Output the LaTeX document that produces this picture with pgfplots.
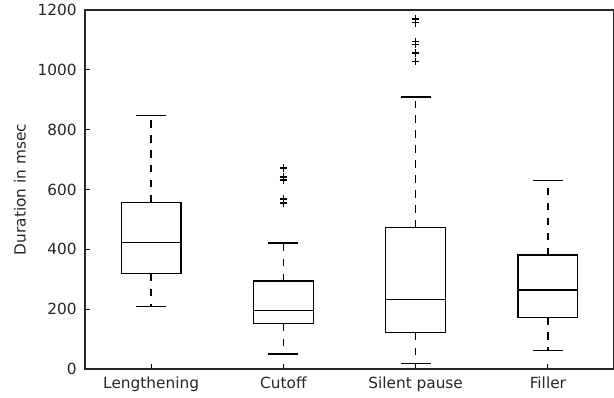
\documentclass[border=0pt]{standalone}
\usepackage{pgfplots}
\pgfplotsset{compat=1.18}
\usepgfplotslibrary{statistics}
\usepackage{fontspec}
\setmainfont{DejaVu Sans}
\begin{document}
\fontsize{11.5}{13.8}\selectfont
\begin{tikzpicture}
\begin{axis}[
  name=ax,
  scale only axis,
  width=396.75pt, height=269.25pt,
  xmin=0.5, xmax=4.5, ymin=0, ymax=1200,
  xtick={1,2,3,4},
  xticklabels={Lengthening,Cutoff,Silent pause,Filler},
  ytick={0,200,400,600,800,1000,1200},
  xtick pos=left, ytick pos=left,
  tick align=inside,
  major tick length=3.75pt,
  tick style={black, line width=0.8pt},
  axis line style={black!85, line width=0.94pt},
  /pgf/number format/assume math mode=true,
  /pgf/number format/1000 sep={},
  yticklabel style={xshift=-2.2pt, text=black!85},
  xticklabel style={yshift=-2pt, text=black!85},
  ylabel={Duration in msec},
  ylabel style={at={(axis description cs:-0.1229,0.5)}, anchor=center, text=black!85},
  boxplot/draw direction=y,
  boxplot/box extend=0.45,
  boxplot/whisker extend=0.225,
  boxplot/draw/lower whisker/.code={%
    \draw[black, line width=0.94pt, dash pattern=on 5.6pt off 5.6pt]
      (boxplot cs:\pgfplotsboxplotvalue{lower quartile}) --
      (boxplot cs:\pgfplotsboxplotvalue{lower whisker});
    \draw[black, line width=0.94pt, solid]
      (boxplot whisker cs:\pgfplotsboxplotvalue{lower whisker},0) --
      (boxplot whisker cs:\pgfplotsboxplotvalue{lower whisker},1);
  },
  boxplot/draw/upper whisker/.code={%
    \draw[black, line width=0.94pt, dash pattern=on 5.6pt off 5.6pt]
      (boxplot cs:\pgfplotsboxplotvalue{upper quartile}) --
      (boxplot cs:\pgfplotsboxplotvalue{upper whisker});
    \draw[black, line width=0.94pt, solid]
      (boxplot whisker cs:\pgfplotsboxplotvalue{upper whisker},0) --
      (boxplot whisker cs:\pgfplotsboxplotvalue{upper whisker},1);
  },
]
\addplot[black, line width=0.94pt, mark=+, mark size=2.8pt, mark options={solid}, boxplot prepared={draw position=1,
  lower whisker=210, lower quartile=318, median=424,
  upper quartile=557, upper whisker=847}] coordinates {};
\addplot[black, line width=0.94pt, mark=+, mark size=2.8pt, mark options={solid}, boxplot prepared={draw position=2,
  lower whisker=50, lower quartile=151, median=195,
  upper quartile=294, upper whisker=421}]
  coordinates {(2,672) (2,642) (2,632) (2,568) (2,555)};
\addplot[black, line width=0.94pt, mark=+, mark size=2.8pt, mark options={solid}, boxplot prepared={draw position=3,
  lower whisker=18, lower quartile=121, median=233,
  upper quartile=473, upper whisker=909}]
  coordinates {(3,1170) (3,1157) (3,1095) (3,1084) (3,1056) (3,1027)};
\addplot[black, line width=0.94pt, mark=+, mark size=2.8pt, mark options={solid}, boxplot prepared={draw position=4,
  lower whisker=63, lower quartile=172, median=264,
  upper quartile=381, upper whisker=629}] coordinates {};
\end{axis}
\pgfresetboundingbox
\useasboundingbox ([xshift=-63.75pt,yshift=-21pt]ax.south west) rectangle ([xshift=396.75pt,yshift=7.5pt]ax.north west);
\end{tikzpicture}
\end{document}
